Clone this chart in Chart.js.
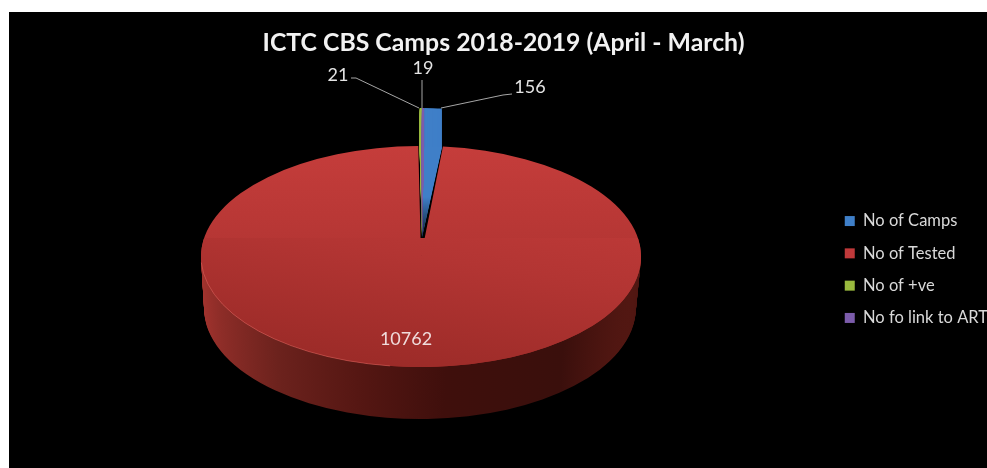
<!DOCTYPE html>
<html>
<head>
<meta charset="utf-8">
<title>ICTC CBS Camps</title>
<script src="https://cdn.jsdelivr.net/npm/chart.js@4"></script>
<style>
  html, body { margin: 0; height: 100%; background: #fff; overflow: hidden; }
  #camps { position: absolute; left: 9px; top: 12px; background: #000; filter: blur(0.7px); }
</style>
</head>
<body>
<canvas id="camps" width="994" height="515"></canvas>
<script>
const categories = ["No of Camps", "No of Tested", "No of +ve", "No fo link to ART"];
const counts = [156, 10762, 21, 19];
const sliceColors = ["#3f7fc8", "#c0393a", "#9aba3e", "#7c5cab"];
const darkColors = ["#0b1a2c", "#000", "#10180a", "#0e0a14"];

// page coordinates of the tilted pie
const OX = 9, OY = 12;
const face = { x: 421, y: 256.5, rx: 220, ry: 110.5 };
const wallDepth = 52;
const wedge = { x: 422, y: 238, rx: 200, ry: 91, lift: 39 };
// label anchor + leader line per slice
const labelSpots = [
  { x: 530, y: 87, line: [[512, 94], [503, 95], [441, 108]] },
  { x: 406, y: 339, line: null },
  { x: 338, y: 75, line: [[351, 78], [356, 78], [419, 108]] },
  { x: 423, y: 68, line: [[422, 80], [422, 108]] }
];

function place(ctx, arc, cx, cy, rx, ry, turn) {
  const R = arc.outerRadius;
  ctx.translate(cx, cy);
  ctx.scale(rx / R, ry / R);
  if (turn) ctx.rotate(turn);
  ctx.translate(-arc.x, -arc.y);
}

function paint(ctx, arc, fill, extra) {
  const keep = arc.options;
  arc.options = Object.assign({}, keep, { backgroundColor: fill, borderWidth: 0 }, extra);
  arc.draw(ctx);
  arc.options = keep;
}

const pie3d = {
  id: "pie3d",
  beforeDatasetsDraw(chart) {
    const ctx = chart.ctx;
    const arcs = chart.getDatasetMeta(0).data;
    const big = counts.indexOf(Math.max(...counts));
    const red = arcs[big];
    const R = red.outerRadius;

    ctx.save();
    ctx.translate(-OX, -OY);

    // side wall of the big slice
    const wall = ctx.createLinearGradient(red.x - R, 0, red.x + R, 0);
    wall.addColorStop(0, "#aa3530");
    wall.addColorStop(0.12, "#8e2d28");
    wall.addColorStop(0.3, "#6c221d");
    wall.addColorStop(0.5, "#561713");
    wall.addColorStop(0.7, "#3f0f0c");
    wall.addColorStop(0.92, "#3a0f0c");
    wall.addColorStop(1, "#521712");
    ctx.save();
    ctx.beginPath();
    ctx.rect(0, face.y, 1100, 300);
    ctx.clip();
    for (let d = wallDepth; d >= 1; d--) {
      ctx.save();
      place(ctx, red, face.x - d * 0.02, face.y + d, face.rx - d * 0.08, face.ry, 0.3);
      paint(ctx, red, wall);
      ctx.restore();
    }
    ctx.restore();

    // top face, the notch only runs up from the apex
    const top = ctx.createLinearGradient(0, red.y - R, 0, red.y + R);
    top.addColorStop(0, "#c53d3b");
    top.addColorStop(0.5, "#b33533");
    top.addColorStop(1, "#9c2b28");
    ctx.save();
    place(ctx, red, face.x, face.y, face.rx, face.ry);
    paint(ctx, red, top);
    ctx.restore();
    ctx.save();
    ctx.beginPath();
    ctx.rect(0, wedge.y, 1100, 300);
    ctx.clip();
    ctx.save();
    place(ctx, red, face.x, face.y, face.rx, face.ry, 0.3);
    paint(ctx, red, top);
    ctx.restore();
    ctx.restore();

    // light rim on the lower left edge
    ctx.save();
    ctx.beginPath();
    ctx.rect(190, face.y + 6, 200, 120);
    ctx.clip();
    place(ctx, red, face.x, face.y, face.rx, face.ry);
    paint(ctx, red, "rgba(0,0,0,0)", { borderWidth: 1, borderColor: "rgba(225,105,100,0.7)" });
    ctx.restore();

    // the thin slices stand up out of the notch
    arcs.forEach((arc, i) => {
      if (i === big) return;
      for (let l = wedge.lift; l >= 1; l--) {
        ctx.save();
        place(ctx, arc, wedge.x, wedge.y - l, wedge.rx, wedge.ry);
        paint(ctx, arc, sliceColors[i]);
        ctx.restore();
      }
      const fade = ctx.createLinearGradient(0, arc.y - arc.outerRadius, 0, arc.y);
      fade.addColorStop(0, sliceColors[i]);
      fade.addColorStop(0.55, sliceColors[i]);
      fade.addColorStop(1, darkColors[i]);
      ctx.save();
      place(ctx, arc, wedge.x, wedge.y, wedge.rx, wedge.ry);
      paint(ctx, arc, fade);
      ctx.restore();
    });

    // leader lines and value labels
    ctx.strokeStyle = "#a6a6a6";
    ctx.lineWidth = 1;
    ctx.font = "18px Lato";
    ctx.textAlign = "center";
    ctx.textBaseline = "middle";
    labelSpots.forEach((spot, i) => {
      if (spot.line) {
        ctx.beginPath();
        spot.line.forEach((p, k) => k ? ctx.lineTo(p[0], p[1]) : ctx.moveTo(p[0], p[1]));
        ctx.stroke();
      }
      ctx.fillStyle = i === big ? "#f0dcdc" : "#e4e4e4";
      ctx.fillText(String(counts[i]), spot.x, spot.y);
    });
    ctx.restore();
    return false;
  }
};

new Chart(document.getElementById("camps"), {
  type: "pie",
  data: {
    labels: categories,
    datasets: [{ data: counts, backgroundColor: sliceColors, borderWidth: 0 }]
  },
  options: {
    responsive: false,
    animation: false,
    rotation: 0.6,
    layout: { padding: { right: 5 } },
    plugins: {
      title: {
        display: true,
        text: "ICTC CBS Camps 2018-2019 (April - March)",
        color: "#f2f2f2",
        font: { family: "Lato", size: 24.8, weight: "bold" },
        padding: { top: 16, bottom: 10 }
      },
      legend: {
        position: "right",
        labels: {
          color: "#d9d9d9",
          boxWidth: 10,
          boxHeight: 10,
          padding: 15.8,
          font: { family: "Lato", size: 16.5 }
        }
      },
      tooltip: { enabled: false }
    }
  },
  plugins: [pie3d]
});
</script>
</body>
</html>
